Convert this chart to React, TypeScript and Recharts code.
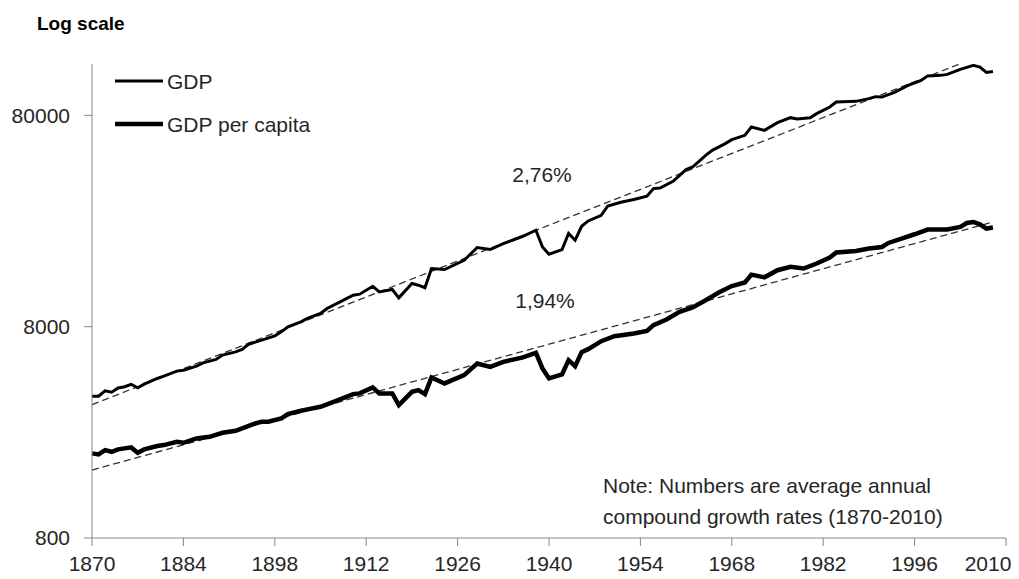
import { LineChart, Line, XAxis, YAxis } from 'recharts';

// [year, value] (log scale)
const GDP: [number, number][] = [
  [1870, 3750], [1871, 3750], [1872, 3980], [1873, 3920], [1874, 4100], [1875, 4160],
  [1876, 4270], [1877, 4110], [1878, 4280], [1880, 4550], [1881, 4670], [1883, 4930],
  [1884, 4980], [1886, 5200], [1887, 5390], [1889, 5600], [1890, 5870], [1892, 6080],
  [1893, 6240], [1894, 6610], [1896, 6910], [1898, 7240], [1899, 7560], [1900, 7990],
  [1902, 8430], [1903, 8750], [1905, 9240], [1906, 9750], [1908, 10480], [1910, 11270],
  [1911, 11400], [1913, 12430], [1914, 11680], [1916, 12000], [1917, 10950], [1919, 12800],
  [1920, 12570], [1921, 12230], [1922, 15080], [1924, 14910], [1927, 16500], [1929, 18950],
  [1931, 18540], [1933, 19790], [1936, 21430], [1938, 22880], [1939, 19070], [1940, 17620],
  [1942, 18540], [1943, 22080], [1944, 20520], [1945, 23890], [1946, 25320], [1948, 26930],
  [1949, 29810], [1951, 31030], [1953, 31960], [1955, 33130], [1956, 36020], [1957, 36260],
  [1959, 39000], [1961, 44300], [1962, 45570], [1964, 51760], [1965, 54650], [1967, 58790],
  [1968, 61400], [1970, 64360], [1971, 70430], [1973, 67940], [1975, 73870], [1977, 78020],
  [1978, 76850], [1980, 77860], [1981, 81500], [1983, 87570], [1984, 92470], [1987, 93180],
  [1989, 95960], [1990, 98060], [1991, 97640], [1993, 103100], [1995, 110900], [1997, 117100],
  [1998, 123000], [2000, 123700], [2001, 125000], [2003, 132000], [2005, 137900], [2006, 135400],
  [2007, 127800], [2008, 129100],
];

const GDP_PER_CAPITA: [number, number][] = [
  [1870, 2012], [1871, 1990], [1872, 2085], [1873, 2047], [1874, 2101], [1876, 2147],
  [1877, 2025], [1878, 2101], [1880, 2178], [1881, 2202], [1883, 2282], [1884, 2257],
  [1886, 2368], [1888, 2410], [1890, 2518], [1892, 2573], [1893, 2641], [1895, 2789],
  [1896, 2838], [1897, 2838], [1899, 2945], [1900, 3086], [1902, 3199], [1903, 3250],
  [1905, 3342], [1907, 3528], [1910, 3837], [1911, 3867], [1913, 4127], [1914, 3867],
  [1916, 3867], [1917, 3404], [1919, 3934], [1920, 4008], [1921, 3837], [1922, 4602],
  [1924, 4311], [1927, 4719], [1929, 5359], [1931, 5164], [1933, 5454], [1936, 5722],
  [1938, 6015], [1939, 5076], [1940, 4552], [1942, 4755], [1943, 5556], [1944, 5204],
  [1945, 6061], [1946, 6262], [1948, 6831], [1950, 7214], [1953, 7429], [1955, 7642],
  [1956, 8134], [1958, 8653], [1960, 9399], [1962, 9860], [1964, 10676], [1966, 11600],
  [1968, 12450], [1970, 12960], [1971, 14100], [1973, 13700], [1975, 14800], [1977, 15350],
  [1979, 15080], [1981, 15920], [1983, 16990], [1984, 17950], [1987, 18260], [1989, 18750],
  [1991, 19070], [1992, 19920], [1994, 20900], [1996, 21900], [1998, 23050], [2001, 23050],
  [2003, 23710], [2004, 24760], [2005, 25030], [2006, 24410], [2007, 23300], [2008, 23560],
];

// exponential trend lines: straight on a log axis, so two ends are enough
const GDP_TREND: [number, number][] = [[1870, 3422], [2008, 161400]];
const PC_TREND: [number, number][] = [[1870, 1678], [2008, 25030]];

const X_TICKS = [1870, 1884, 1898, 1912, 1926, 1940, 1954, 1968, 1982, 1996, 2010];
const Y_TICKS = [800, 8000, 80000];

const FONT = '"Liberation Sans", Arial, sans-serif';
const AXIS = '#868686';
const TEXT = '#262626';

type Row = { year: number; gdp?: number; pc?: number; gdpTrend?: number; pcTrend?: number };

function buildRows(): Row[] {
  const map = new Map<number, Row>();
  const put = (list: [number, number][], key: keyof Omit<Row, 'year'>) => {
    list.forEach(([year, v]) => {
      const row = map.get(year) ?? { year };
      row[key] = v;
      map.set(year, row);
    });
  };
  put(GDP, 'gdp');
  put(GDP_PER_CAPITA, 'pc');
  put(GDP_TREND, 'gdpTrend');
  put(PC_TREND, 'pcTrend');
  return [...map.values()].sort((a, b) => a.year - b.year);
}

const rows = buildRows();

// last label is pulled left so it stays inside the picture, like Excel does
function YearTick(props: any) {
  const { x, y, payload } = props;
  const shift = payload.value === 2010 ? -18 : 0;
  return (
    <text x={x + shift} y={y} dy="0.71em" textAnchor="middle" fontSize={21} fill={TEXT}>
      {payload.value}
    </text>
  );
}

export default function App() {
  return (
    <div style={{ position: 'absolute', left: 0, top: 0, width: 1019, height: 579, background: '#fff' }}>
      <LineChart
        width={1019}
        height={579}
        data={rows}
        margin={{ top: 64, right: 13, bottom: 11, left: 12 }}
        style={{ fontFamily: FONT }}
      >
        <XAxis
          dataKey="year"
          type="number"
          domain={[1870, 2010]}
          ticks={X_TICKS}
          interval={0}
          height={30}
          tickSize={8}
          tickMargin={10}
          axisLine={{ stroke: AXIS }}
          tickLine={{ stroke: AXIS }}
          tick={<YearTick />}
        />
        <YAxis
          scale="log"
          domain={[800, 140000]}
          ticks={Y_TICKS}
          allowDataOverflow
          width={80}
          tickSize={8}
          tickMargin={14}
          axisLine={{ stroke: AXIS }}
          tickLine={{ stroke: AXIS }}
          tick={{ fill: TEXT, fontSize: 21 }}
        />
        <Line dataKey="gdpTrend" stroke="#333" strokeWidth={1.3} strokeDasharray="7 4" dot={false} connectNulls isAnimationActive={false} />
        <Line dataKey="pcTrend" stroke="#333" strokeWidth={1.3} strokeDasharray="7 4" dot={false} connectNulls isAnimationActive={false} />
        <Line dataKey="gdp" name="GDP" stroke="#000" strokeWidth={3} dot={false} connectNulls isAnimationActive={false} />
        <Line dataKey="pc" name="GDP per capita" stroke="#000" strokeWidth={4.5} dot={false} connectNulls isAnimationActive={false} />
      </LineChart>
      <svg
        width={1019}
        height={579}
        style={{ position: 'absolute', left: 0, top: 0, pointerEvents: 'none', fontFamily: FONT }}
      >
        <text x={37} y={30} fontSize={19} fontWeight="bold" fill="#000">Log scale</text>
        {/* legend */}
        <line x1={115} y1={81} x2={163} y2={81} stroke="#000" strokeWidth={3} />
        <text x={167} y={89} fontSize={21} fill={TEXT}>GDP</text>
        <line x1={115} y1={124} x2={163} y2={124} stroke="#000" strokeWidth={4.5} />
        <text x={167} y={132} fontSize={21} fill={TEXT}>GDP per capita</text>
        {/* growth-rate labels and note */}
        <text x={542} y={182} fontSize={21} fill={TEXT} textAnchor="middle">2,76%</text>
        <text x={545} y={308} fontSize={21} fill={TEXT} textAnchor="middle">1,94%</text>
        <text x={603} y={493} fontSize={21} fill={TEXT}>Note: Numbers are average annual</text>
        <text x={603} y={524} fontSize={21} fill={TEXT}>compound growth rates (1870-2010)</text>
      </svg>
    </div>
  );
}
